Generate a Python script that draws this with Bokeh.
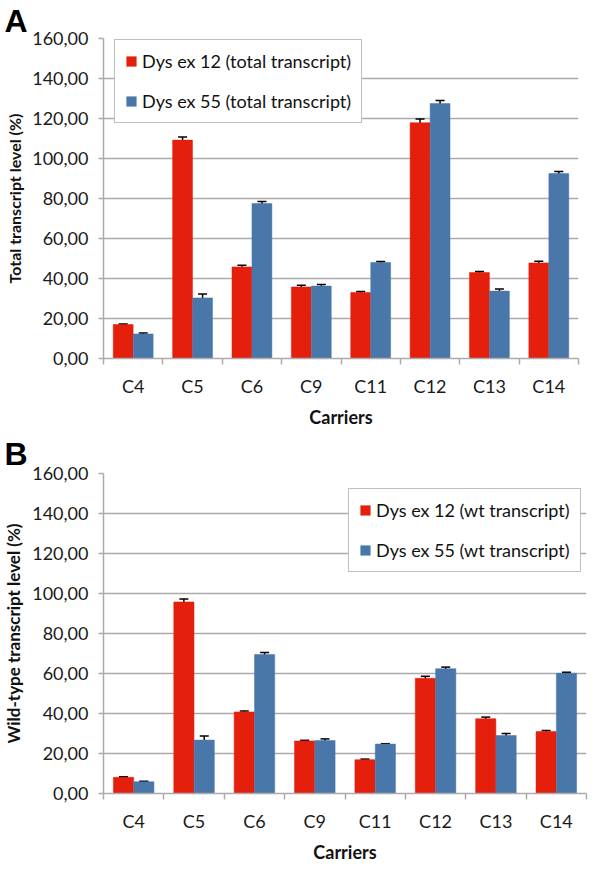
from bokeh.plotting import figure
from bokeh.models import (ColumnDataSource, Range1d, FixedTicker, Whisker, TeeHead,
                          Legend, LegendItem, Title)
from bokeh.layouts import column
from bokeh.transform import dodge
from bokeh.embed import file_html
from bokeh.resources import INLINE

# ---------------- data ----------------
carriers = ["C4", "C5", "C6", "C9", "C11", "C12", "C13", "C14"]

total_ex12 = [17.0, 109.2, 45.8, 35.8, 33.0, 117.9, 43.0, 47.8]
total_ex12_err = [0.3, 1.5, 0.8, 0.8, 0.5, 1.8, 0.5, 0.8]
total_ex55 = [12.3, 30.3, 77.5, 36.2, 48.0, 127.5, 33.7, 92.5]
total_ex55_err = [0.4, 2.0, 1.0, 0.8, 0.5, 1.5, 1.0, 1.0]

wt_ex12 = [8.1, 95.8, 40.8, 26.3, 16.9, 57.6, 37.4, 31.0]
wt_ex12_err = [0.3, 1.5, 0.5, 0.3, 0.3, 1.0, 0.8, 0.5]
wt_ex55 = [5.9, 26.7, 69.5, 26.5, 24.7, 62.4, 29.0, 60.1]
wt_ex55_err = [0.2, 2.0, 1.0, 0.8, 0.2, 0.8, 1.0, 0.5]

y_ticks = [0, 20, 40, 60, 80, 100, 120, 140, 160]
y_tick_labels = ["0,00", "20,00", "40,00", "60,00", "80,00", "100,00", "120,00", "140,00", "160,00"]

RED = "#E41F0B"
BLUE = "#4977AA"
GRID = "#ABABAB"
FONT = "Lato"


def make_chart(letter, ylabel, ylabel_size, v12, e12, v55, e55, lab12, lab55,
               frame_w, border_top, border_right, legend_loc, title_standoff):
    n = len(carriers)
    xc = [2 * i + 1 for i in range(n)]          # category centres on a 0..2n scale
    src = ColumnDataSource(dict(
        xc=xc, cat=carriers,
        v12=v12, v55=v55,
        u12=[v + e for v, e in zip(v12, e12)], l12=[v - e for v, e in zip(v12, e12)],
        u55=[v + e for v, e in zip(v55, e55)], l55=[v - e for v, e in zip(v55, e55)],
    ))

    p = figure(frame_width=frame_w, frame_height=320,
               output_backend="svg", toolbar_location=None,
               x_range=Range1d(0, 2 * n), y_range=Range1d(0, 160),
               min_border_left=99, min_border_right=border_right,
               min_border_top=border_top, min_border_bottom=67)
    p.outline_line_color = None
    p.background_fill_color = "white"
    p.border_fill_color = "white"

    p.title = Title(text=letter, align="left", offset=-99, standoff=title_standoff,
                    text_font="Liberation Sans", text_font_style="bold",
                    text_font_size="32px", text_color="black")

    off = 0.337
    bw = 0.67
    r1 = p.vbar(x=dodge("xc", -off, range=p.x_range), top="v12", width=bw, bottom=0,
                source=src, fill_color=RED, line_color=RED, line_width=0.5)
    r2 = p.vbar(x=dodge("xc", off, range=p.x_range), top="v55", width=bw, bottom=0,
                source=src, fill_color=BLUE, line_color=BLUE, line_width=0.5)

    for o, up, lo in ((-off, "u12", "l12"), (off, "u55", "l55")):
        w = Whisker(base=dodge("xc", o, range=p.x_range), upper=up, lower=lo, source=src,
                    dimension="height", line_color="black", line_width=1.5,
                    upper_head=TeeHead(size=9, line_color="black", line_width=1.5),
                    lower_head=TeeHead(size=9, line_color="black", line_width=1.5))
        p.add_layout(w)

    # y axis
    p.yaxis.ticker = FixedTicker(ticks=y_ticks)
    p.yaxis.major_label_overrides = dict(zip(y_ticks, y_tick_labels))
    p.yaxis.axis_line_color = GRID
    p.yaxis.axis_line_width = 1.5
    p.yaxis.major_tick_line_color = GRID
    p.yaxis.major_tick_line_width = 1.5
    p.yaxis.major_tick_out = 5
    p.yaxis.major_tick_in = 0
    p.yaxis.minor_tick_line_color = None
    p.yaxis.major_label_text_font = FONT
    p.yaxis.major_label_text_font_size = "18px"
    p.yaxis.major_label_text_color = "#1a1a1a"
    p.yaxis.major_label_standoff = 10
    p.yaxis.axis_label = ylabel
    p.yaxis.axis_label_text_font = FONT
    p.yaxis.axis_label_text_font_style = "bold"
    p.yaxis.axis_label_text_font_size = ylabel_size
    p.yaxis.axis_label_text_color = "#111111"
    p.yaxis.axis_label_standoff = 5

    # x axis: labels at centres, ticks at category boundaries
    p.xaxis.ticker = FixedTicker(ticks=xc, minor_ticks=[2 * i for i in range(n + 1)])
    p.xaxis.major_label_overrides = dict(zip(xc, carriers))
    p.xaxis.axis_line_color = GRID
    p.xaxis.axis_line_width = 1.5
    p.xaxis.major_tick_line_color = None
    p.xaxis.major_tick_out = 6
    p.xaxis.major_tick_in = 0
    p.xaxis.minor_tick_line_color = GRID
    p.xaxis.minor_tick_line_width = 1.5
    p.xaxis.minor_tick_out = 6
    p.xaxis.minor_tick_in = 0
    p.xaxis.major_label_text_font = FONT
    p.xaxis.major_label_text_font_size = "18px"
    p.xaxis.major_label_text_color = "#1a1a1a"
    p.xaxis.major_label_standoff = 10
    p.xaxis.axis_label = "Carriers"
    p.xaxis.axis_label_text_font = FONT
    p.xaxis.axis_label_text_font_style = "bold"
    p.xaxis.axis_label_text_font_size = "18px"
    p.xaxis.axis_label_text_color = "#111111"
    p.xaxis.axis_label_standoff = 6

    p.xgrid.grid_line_color = None
    p.ygrid.ticker = FixedTicker(ticks=y_ticks)
    p.ygrid.grid_line_color = GRID
    p.ygrid.grid_line_width = 1.5

    legend = Legend(items=[LegendItem(label=lab12, renderers=[r1]),
                           LegendItem(label=lab55, renderers=[r2])],
                    location=legend_loc,
                    label_text_font=FONT, label_text_font_size="18px",
                    label_text_color="#111111",
                    glyph_width=12, glyph_height=12, label_height=22,
                    label_standoff=5, padding=10, spacing=18, margin=0,
                    border_line_color="#808080", border_line_width=1,
                    background_fill_alpha=1.0)
    p.add_layout(legend)
    return p


pa = make_chart("A", "Total transcript level (%)", "16px",
                total_ex12, total_ex12_err, total_ex55, total_ex55_err,
                "Dys ex 12 (total transcript)", "Dys ex 55 (total transcript)",
                frame_w=475, border_top=38, border_right=10,
                legend_loc=(11, 235), title_standoff=0)

pb = make_chart("B", "Wild-type transcript level (%)", "17px",
                wt_ex12, wt_ex12_err, wt_ex55, wt_ex55_err,
                "Dys ex 12 (wt transcript)", "Dys ex 55 (wt transcript)",
                frame_w=483, border_top=43, border_right=2,
                legend_loc=(245, 221), title_standoff=4)

layout = column(pa, pb, spacing=0)

with open("out.html", "w") as f:
    f.write(file_html(layout, INLINE))
